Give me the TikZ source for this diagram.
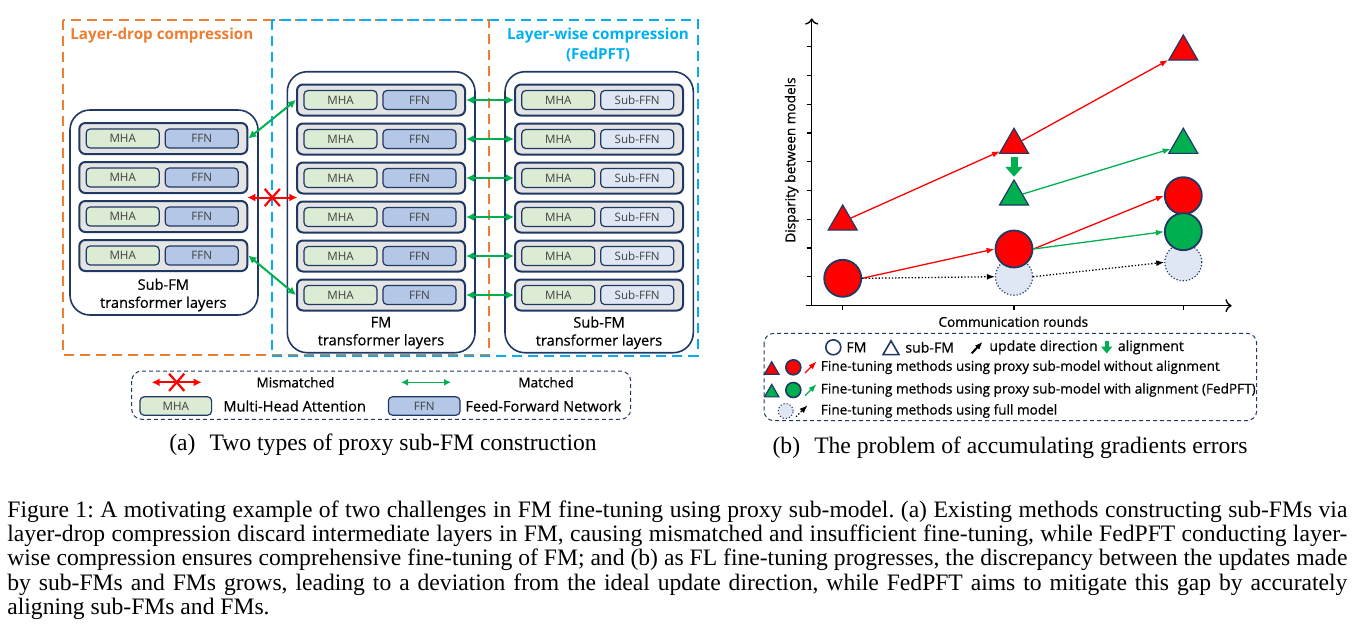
\documentclass[tikz,border=0pt]{standalone}
\usepackage{fontspec}
\setmainfont{Liberation Serif}
\newfontfamily\diagfont{Open Sans}
\newfontfamily\diagmed[FakeBold=0.6]{Open Sans}
\usetikzlibrary{shapes.geometric}
\usetikzlibrary{shapes.misc}
\usetikzlibrary{arrows.meta}
\definecolor{navy}{HTML}{203864}
\definecolor{dorange}{HTML}{ED7D31}
\definecolor{lblue}{HTML}{00B0F0}
\definecolor{lgray}{HTML}{E4E4E4}
\definecolor{mhagreen}{HTML}{DCEBD3}
\definecolor{ffnblue}{HTML}{B4C7E7}
\definecolor{subblue}{HTML}{DFE7F5}
\definecolor{mgreen}{HTML}{00B050}

\begin{document}
\begin{tikzpicture}
    [
    x=0.5pt,y=-0.5pt,
    font=\diagfont,
    txt/.style = {inner sep=0pt,font=\diagmed\fontsize{6.8}{8}\selectfont},
    bigtxt/.style = {inner sep=0pt,font=\diagmed\fontsize{7.3}{8}\selectfont},
    keytxt/.style = {inner sep=0pt,font=\diagmed\fontsize{7.05}{8}\selectfont},
    layer/.style = {draw=navy,line width=1pt,fill=lgray,rounded corners=3pt,minimum width=84pt,minimum height=15.5pt,inner sep=0pt},
    mha/.style = {draw=navy,line width=0.6pt,fill=mhagreen,rounded corners=2pt,minimum width=36.5pt,minimum height=9.5pt,inner sep=0pt,text=black!75,font=\diagfont\fontsize{5.8}{6}\selectfont},
    ffn/.style = {mha,fill=ffnblue},
    subffn/.style = {mha,fill=subblue},
    stack/.style = {draw=navy,line width=0.8pt,rounded corners=10pt},
    stacklabel/.style = {align=center,inner sep=0pt,font=\diagmed\fontsize{7.3}{9}\selectfont},
    region/.style = {line width=1.2pt,dash pattern=on 5pt off 3pt},
    legbox/.style = {draw=navy,line width=0.5pt,dash pattern=on 2pt off 1.5pt,rounded corners=5pt},
    match/.style = {{Latex[length=4pt,width=4pt]}-{Latex[length=4pt,width=4pt]},draw=mgreen,line width=1pt},
    mismatch/.style = {match,draw=red},
    cross/.style = {draw=red,cross out,line width=1.1pt,minimum width=6.5pt,minimum height=7.5pt,inner sep=0pt},
    axis/.style = {line width=0.7pt},
    tri/.style = {regular polygon,regular polygon sides=3,draw=navy,line width=0.6pt,minimum size=16.75pt,inner sep=0pt},
    dot/.style = {circle,draw=navy,line width=0.9pt,minimum size=18.5pt,inner sep=0pt},
    full/.style = {dot,fill=subblue,line width=0.6pt,densely dotted},
    upd/.style = {-{Latex[length=4pt,width=3pt]},line width=0.65pt},
    alignarrow/.style = {-{Triangle[width=8.5pt,length=5pt]},draw=mgreen,line width=3.5pt},
    subcap/.style = {inner sep=0pt,font=\rmfamily\fontsize{11.8}{13}\selectfont}
    ]
\useasboundingbox (0,0) rectangle (1353,628);

% (a) proxy sub-FM construction
\node[anchor=west,text=dorange,inner sep=0pt,font=\diagfont\bfseries\fontsize{7.6}{9}\selectfont] (droptitle) at (70,35.7) {Layer-drop compression};
\node[align=center,text=lblue,inner sep=0pt,font=\diagfont\bfseries\fontsize{7.6}{10}\selectfont] (wisetitle) at (598,45) {Layer-wise compression\\(FedPFT)};

\draw[stack] (70,110) rectangle (258,315);
\draw[stack] (287.3,71.7) rectangle (475,352.7);
\draw[stack] (505,71.7) rectangle (693.3,352.7);

\foreach \i in {1,...,4} {
    \node[layer] (s\i) at (163.3,{99.5+39*\i}) {};
    \node[mha] (sm\i) at (122.7,{99.5+39*\i}) {MHA};
    \node[ffn] (sf\i) at (201.7,{99.5+39*\i}) {FFN};
}
\foreach \i in {1,...,6} {
    \node[layer] (f\i) at (381,{61+39*\i}) {};
    \node[mha] (fm\i) at (340.5,{61+39*\i}) {MHA};
    \node[ffn] (ff\i) at (419.5,{61+39*\i}) {FFN};
    \node[layer] (r\i) at (599,{61+39*\i}) {};
    \node[mha] (rm\i) at (558.3,{61+39*\i}) {MHA};
    \node[subffn] (rf\i) at (637.2,{61+39*\i}) {Sub-FFN};
}
\node[stacklabel] (slab) at (163.3,295) {Sub-FM\\transformer layers};
\node[stacklabel] (flab) at (381,332.8) {FM\\transformer layers};
\node[stacklabel] (rlab) at (599,332.8) {Sub-FM\\transformer layers};

\draw[dorange,region] (62.7,20) rectangle (488.7,355);
\draw[lblue,region] (272,20) rectangle (697.7,355.7);

\foreach \i in {1,...,6}
    \draw[match] (f\i) -- (r\i);
\draw[match] (s1.east) -- (f1.west);
\draw[match] (s4.east) -- (f6.west);
\coordinate (mmL) at (247.3,197.5);
\coordinate (mmR) at (297.3,197.5);
\draw[mismatch] (mmL) -- node[cross] (mmx) {} (mmR);

% legend (a)
\draw[legbox] (131.7,371) rectangle (630.7,419.3);
\coordinate (la1) at (151.7,382.3);
\coordinate (la2) at (201.7,382.3);
\draw[mismatch] (la1) -- node[cross] (lax) {} (la2);
\node[txt] (lamis) at (295.5,382.3) {Mismatched};
\coordinate (lb1) at (401,382.3);
\coordinate (lb2) at (451,382.3);
\draw[match,line width=0.8pt,{Latex[length=3.5pt,width=3.5pt]}-{Latex[length=3.5pt,width=3.5pt]}] (lb1) -- (lb2);
\node[txt] (lamat) at (546,382.3) {Matched};
\node[mha,minimum width=35.8pt,minimum height=9.2pt] (lmha) at (175.8,406) {MHA};
\node[bigtxt,anchor=west] (lmhat) at (223,406) {Multi-Head Attention};
\node[ffn,minimum width=35.8pt,minimum height=9.2pt] (lffn) at (424.2,406) {FFN};
\node[bigtxt,anchor=west] (lffnt) at (465,406) {Feed-Forward Network};

\node[subcap] (capa) at (383,445) {(a)\hspace{0.6em}Two types of proxy sub-FM construction};

% (b) accumulating errors
\draw[axis,->] (811.7,305.7) -- (811.7,18.3);
\draw[axis,->] (805.7,305.7) -- (1231.7,305.7);
\foreach \k in {0,...,8}
    \draw[axis] (806.7,{46.7+28.75*\k}) -- (811.7,{46.7+28.75*\k});
\foreach \c in {842.7,1014,1183.3}
    \draw[axis] (\c,305.7) -- (\c,310.2);
\node[txt] (xlab) at (1013.3,321.7) {Communication rounds};
\node[txt,rotate=90] (ylab) at (791.7,160) {Disparity between models};

\node[full] (F2) at (1014,276.7) {};
\node[full] (F3) at (1183.3,262.3) {};
\node[dot,fill=red] (C1) at (842.7,278.3) {};
\node[dot,fill=red] (C2) at (1014,249) {};
\node[dot,fill=red] (C3) at (1183.3,195.7) {};
\node[dot,fill=mgreen] (G3c) at (1183.3,231.7) {};
\node[tri,fill=red] (T1) at (842.7,221.7) {};
\node[tri,fill=red] (T2) at (1014,145) {};
\node[tri,fill=red] (T3) at (1183.3,51.7) {};
\node[tri,fill=mgreen] (G2) at (1014,196.7) {};
\node[tri,fill=mgreen] (G3) at (1183.3,145) {};

\draw[upd,red] (T1) -- (T2);
\draw[upd,red] (T2) -- (T3);
\draw[upd,mgreen] (G2) -- (G3);
\draw[upd,red] (C1.east) -- (C2.west);
\draw[upd,red] (C2.east) -- (C3.west);
\draw[upd,mgreen] (C2.east) -- (G3c.west);
\draw[upd,densely dotted] (C1.east) -- (F2.west);
\draw[upd,densely dotted] (F2.east) -- (F3.west);
\draw[alignarrow,shorten <=1.5pt,shorten >=1pt] (T2.south) -- (G2.north);

% legend (b)
\draw[legbox] (764,333.3) rectangle (1256.7,420.7);
\node[dot,minimum size=7.5pt,line width=0.8pt] (kfm) at (833.3,347.3) {};
\node[keytxt,anchor=west] (kfmt) at (846,347.3) {FM};
\node[tri,minimum size=9.2pt,line width=0.8pt] (ksub) at (891,350) {};
\node[keytxt,anchor=west] (ksubt) at (905,347.3) {sub-FM};
\coordinate (ku1) at (971.7,353.3);
\coordinate (ku2) at (982.7,341.7);
\draw[upd,line width=1pt] (ku1) -- (ku2);
\node[keytxt,anchor=west] (kupdt) at (989,347.3) {update direction};
\coordinate (kal1) at (1106.7,341);
\coordinate (kal2) at (1106.7,353.5);
\draw[alignarrow,line width=2.2pt,-{Triangle[width=5.5pt,length=3.5pt]}] (kal1) -- (kal2);
\node[keytxt,anchor=west] (kalt) at (1117.5,347.3) {alignment};

\node[tri,fill=red,minimum size=8.3pt] (kr1) at (771.7,370) {};
\node[dot,fill=red,minimum size=7.5pt,line width=0.8pt] (kr2) at (793.3,367.3) {};
\coordinate (kr3) at (805,373);
\coordinate (kr4) at (816.5,361.5);
\draw[upd,red] (kr3) -- (kr4);
\node[txt,anchor=west] (krt) at (820.5,367.3) {Fine-tuning methods using proxy sub-model without alignment};

\node[tri,fill=mgreen,minimum size=8.3pt] (kg1) at (771.7,392.7) {};
\node[dot,fill=mgreen,minimum size=7.5pt,line width=0.8pt] (kg2) at (793.3,390) {};
\coordinate (kg3) at (805,395.7);
\coordinate (kg4) at (816.5,384.2);
\draw[upd,mgreen] (kg3) -- (kg4);
\node[txt,anchor=west] (kgt) at (820.5,390) {Fine-tuning methods using proxy sub-model with alignment (FedPFT)};

\node[full,minimum size=7.5pt,line width=0.5pt] (kf1) at (785.7,411) {};
\coordinate (kf3) at (796,416.7);
\coordinate (kf4) at (807.5,405.2);
\draw[upd,densely dotted] (kf3) -- (kf4);
\node[txt,anchor=west] (kft) at (820.5,411) {Fine-tuning methods using full model};

\node[subcap] (capb) at (1010,448) {(b)\hspace{0.6em}The problem of accumulating gradients errors};

% figure caption
\node[anchor=north west,text width=670pt,align=justify,inner sep=0pt,font=\rmfamily\fontsize{11.8}{12.1}\selectfont] (caption) at (7,500.5) {\frenchspacing\hyphenpenalty=10000\exhyphenpenalty=10000\tolerance=10000
Figure 1: A motivating example of two challenges in FM fine-tuning using proxy sub-model. (a) Existing methods constructing sub-FMs via\linebreak
layer-drop compression discard intermediate layers in FM, causing mismatched and insufficient fine-tuning, while FedPFT conducting layer-\linebreak
wise compression ensures comprehensive fine-tuning of FM; and (b) as FL fine-tuning progresses, the discrepancy between the updates made\linebreak
by sub-FMs and FMs grows, leading to a deviation from the ideal update direction, while FedPFT aims to mitigate this gap by accurately\linebreak
aligning sub-FMs and FMs.};
\end{tikzpicture}
\end{document}
